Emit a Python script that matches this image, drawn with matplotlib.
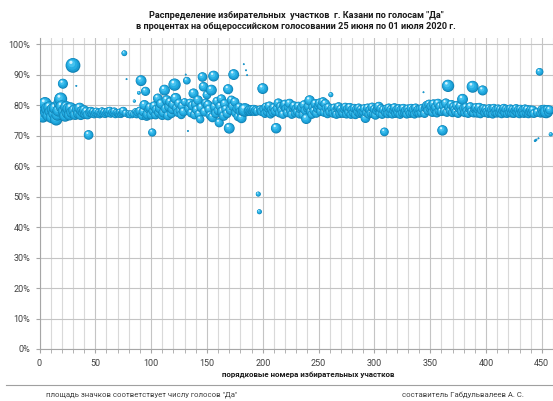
import numpy as np
import matplotlib.pyplot as plt
from matplotlib.lines import Line2D
from matplotlib.ticker import MultipleLocator, PercentFormatter

# share of "Да" votes per polling station (station numbers 1..N in order)
yes_pct = [
    77.0, 78.5, 76.2, 79.5, 80.5, 77.5, 78.8, 76.5, 79.2, 77.8,
    76.0, 78.6, 77.2, 79.0, 75.3, 76.8, 78.2, 80.8, 82.0, 79.5,
    87.0, 78.0, 76.5, 79.3, 77.5, 78.8, 76.8, 79.0, 77.6, 93.0,
    78.2, 76.9, 86.3, 78.5, 77.2, 79.0, 76.8, 78.0, 77.5, 78.3,
    77.0, 77.8, 76.8, 70.2, 77.6, 78.0, 77.2, 77.8, 76.9, 77.5,
    77.9, 77.0, 77.6, 76.8, 77.4, 78.0, 77.1, 77.7, 76.9, 77.5,
    77.9, 77.2, 78.1, 77.0, 77.6, 77.3, 77.9, 76.8, 77.5, 77.2,
    77.0, 77.6, 76.9, 77.4, 78.0, 97.0, 77.3, 88.5, 76.6, 77.2,
    76.8, 77.3, 76.5, 77.0, 81.3, 77.8, 76.9, 77.6, 84.0, 78.0,
    88.0, 76.5, 77.8, 80.0, 84.5, 76.4, 77.0, 78.6, 79.2, 76.8,
    71.0, 78.0, 79.6, 76.8, 78.5, 82.2, 77.5, 79.0, 80.4, 76.6,
    77.5, 84.9, 78.8, 81.6, 76.5, 79.4, 81.0, 77.2, 78.6, 80.2,
    86.7, 82.2, 79.0, 77.6, 80.5, 78.2, 76.8, 79.6, 77.8, 81.0,
    90.0, 88.0, 71.5, 78.9, 80.6, 77.4, 79.8, 83.8, 76.8, 80.2,
    78.4, 81.6, 77.0, 75.3, 79.2, 89.2, 86.0, 77.8, 80.6, 83.3,
    80.0, 78.6, 76.6, 84.9, 76.0, 89.5, 79.4, 77.3, 81.2, 78.2,
    74.2, 79.6, 82.0, 77.8, 76.4, 80.4, 78.6, 77.2, 85.2, 72.4,
    78.4, 81.6, 79.6, 90.0, 81.0, 77.4, 78.8, 76.2, 79.2, 77.8,
    75.7, 78.0, 93.4, 78.4, 91.4, 89.8, 78.0, 78.3, 77.9, 78.4,
    78.1, 78.5, 77.9, 78.3, 78.0, 50.8, 45.0, 78.4, 77.9, 85.4,
    78.6, 77.2, 79.3, 77.8, 78.9, 79.6, 77.0, 78.4, 77.6, 79.1,
    78.0, 72.4, 78.9, 80.6, 77.4, 79.5, 78.3, 76.9, 79.8, 80.2,
    78.8, 77.5, 79.4, 80.5, 78.2, 76.9, 79.1, 79.7, 77.4, 78.7,
    77.8, 79.6, 77.0, 78.6, 79.2, 76.8, 80.0, 78.2, 75.5, 79.0,
    79.6, 81.5, 77.8, 76.9, 79.3, 78.1, 80.4, 77.3, 78.9, 79.8,
    80.6, 77.9, 79.6, 81.0, 77.6, 80.4, 78.9, 77.1, 79.2, 77.8,
    83.4, 78.8, 77.3, 79.0, 77.7, 76.9, 78.9, 79.4, 77.2, 78.6,
    77.6, 77.3, 78.7, 79.3, 77.0, 78.7, 77.6, 79.2, 76.9, 78.4,
    77.5, 78.9, 76.8, 78.6, 77.7, 79.0, 77.2, 78.5, 77.5, 77.8,
    78.8, 75.7, 77.5, 79.0, 77.0, 78.4, 77.3, 79.3, 77.1, 78.6,
    76.7, 78.2, 79.0, 79.5, 77.2, 78.8, 76.9, 78.4, 71.2, 77.6,
    78.7, 77.1, 79.0, 77.6, 78.5, 77.0, 78.3, 79.1, 77.2, 78.4,
    77.5, 78.8, 76.9, 78.5, 77.4, 78.9, 77.6, 78.2, 77.0, 78.7,
    77.9, 77.2, 78.9, 77.5, 78.5, 77.0, 79.0, 77.6, 78.4, 77.3,
    78.6, 77.5, 78.9, 84.2, 77.2, 79.2, 79.8, 78.2, 80.2, 78.9,
    79.6, 77.6, 80.3, 78.6, 79.3, 77.4, 80.5, 78.1, 79.5, 77.9,
    71.7, 79.8, 78.0, 80.6, 77.6, 86.3, 79.2, 78.2, 80.1, 77.5,
    79.4, 78.4, 77.7, 79.8, 77.2, 78.9, 79.6, 77.9, 81.9, 78.8,
    77.5, 79.2, 78.1, 77.2, 78.9, 79.4, 77.8, 86.0, 77.4, 78.7,
    79.1, 77.3, 78.5, 79.2, 77.1, 78.3, 84.8, 78.8, 77.5, 78.6,
    77.8, 77.2, 78.8, 77.5, 78.5, 77.0, 78.9, 77.6, 78.4, 77.3,
    78.7, 77.6, 78.5, 77.1, 78.2, 78.9, 77.4, 78.6, 77.2, 78.4,
    77.6, 78.7, 77.3, 78.5, 77.2, 78.2, 78.8, 77.5, 78.4, 77.1,
    78.6, 77.6, 78.3, 77.2, 78.7, 77.5, 78.5, 77.1, 77.8, 78.4,
    77.4, 78.3, 77.2, 68.3, 68.6, 77.6, 69.1, 90.9, 77.3, 78.5,
    77.5, 78.6, 77.2, 77.8, 78.5, 77.6, 78.4, 70.4,
]

# number of "Да" votes per station (bubble area)
yes_votes = [
    900, 1000, 850, 950, 1000, 900, 950, 800, 900, 850,
    850, 900, 800, 850, 900, 800, 850, 900, 1000, 900,
    600, 900, 850, 900, 800, 850, 750, 800, 750, 1300,
    800, 700, 20, 750, 700, 700, 650, 650, 600, 600,
    550, 600, 500, 550, 500, 450, 400, 400, 350, 400,
    350, 300, 350, 300, 400, 350, 300, 380, 300, 350,
    380, 320, 400, 300, 350, 300, 380, 280, 330, 300,
    300, 350, 300, 350, 450, 200, 300, 15, 150, 250,
    300, 200, 150, 250, 60, 300, 350, 400, 80, 500,
    700, 450, 500, 600, 500, 550, 650, 500, 550, 500,
    400, 550, 600, 500, 600, 550, 550, 650, 600, 500,
    550, 700, 550, 600, 500, 550, 550, 500, 550, 600,
    900, 700, 550, 500, 550, 500, 450, 550, 500, 350,
    15, 350, 15, 550, 500, 500, 550, 600, 500, 550,
    550, 550, 500, 400, 550, 550, 550, 550, 500, 450,
    550, 500, 500, 700, 600, 700, 550, 550, 500, 500,
    500, 550, 500, 700, 550, 550, 500, 500, 600, 700,
    550, 500, 500, 700, 500, 550, 500, 500, 550, 500,
    600, 550, 12, 1100, 12, 10, 500, 550, 500, 550,
    500, 550, 500, 500, 450, 150, 150, 500, 500, 700,
    500, 450, 520, 480, 500, 550, 450, 500, 480, 520,
    480, 650, 500, 550, 480, 520, 500, 450, 550, 550,
    500, 480, 520, 550, 500, 450, 500, 520, 480, 500,
    480, 500, 450, 500, 520, 450, 550, 500, 650, 500,
    520, 650, 480, 450, 500, 500, 550, 480, 500, 520,
    550, 500, 520, 550, 480, 550, 500, 450, 500, 480,
    150, 500, 480, 500, 480, 450, 500, 520, 480, 500,
    480, 500, 500, 480, 450, 500, 480, 500, 450, 480,
    480, 500, 450, 500, 480, 500, 450, 500, 550, 480,
    500, 550, 480, 500, 450, 480, 450, 500, 450, 480,
    500, 480, 500, 550, 450, 500, 450, 480, 450, 480,
    500, 450, 500, 480, 500, 450, 480, 500, 450, 480,
    480, 500, 450, 480, 450, 500, 480, 480, 450, 500,
    480, 450, 500, 480, 500, 450, 500, 480, 480, 450,
    500, 480, 500, 15, 450, 520, 550, 500, 550, 520,
    550, 500, 550, 520, 550, 480, 550, 500, 520, 500,
    650, 550, 500, 550, 480, 900, 520, 500, 550, 480,
    520, 500, 480, 550, 450, 500, 520, 480, 700, 500,
    480, 520, 500, 450, 500, 520, 480, 850, 480, 500,
    520, 450, 500, 520, 450, 480, 600, 500, 480, 500,
    480, 450, 500, 480, 500, 450, 500, 480, 480, 450,
    500, 480, 500, 450, 480, 500, 480, 500, 450, 480,
    480, 500, 450, 500, 450, 480, 500, 480, 480, 450,
    500, 480, 480, 450, 500, 480, 500, 450, 480, 480,
    480, 500, 450, 40, 30, 480, 20, 350, 450, 480,
    480, 500, 450, 1000, 480, 450, 480, 100,
]

title_1 = 'Распределение избирательных  участков  г. Казани по голосам "Да"'
title_2 = 'в процентах на общероссийском голосовании 25 июня по 01 июля 2020 г.'
x_title = "порядковые номера избирательных участков"
note_left = 'площадь значков соответствует числу голосов "Да"'
note_right = "составитель Габдульвалеев А. С."

plt.rcParams['font.family'] = ['Roboto', 'DejaVu Sans']

W, H = 553, 401
fig = plt.figure(figsize=(W / 100, H / 100), dpi=100)
ax = fig.add_axes([39.5 / W, 52 / H, 513.5 / W, 311 / H])
ax.set_xlim(0, 460)
ax.set_ylim(0, 102)

ax.xaxis.set_major_locator(MultipleLocator(50))
ax.xaxis.set_minor_locator(MultipleLocator(10))
ax.yaxis.set_major_locator(MultipleLocator(10))
ax.yaxis.set_major_formatter(PercentFormatter(xmax=100, decimals=0))

ax.set_axisbelow(True)
ax.grid(which='minor', axis='x', color='#d9d9d9', lw=0.8)
ax.grid(which='major', axis='x', color='#c4c4c4', lw=0.8)
ax.grid(which='major', axis='y', color='#c4c4c4', lw=0.8)

for side in ['top', 'right']:
    ax.spines[side].set_visible(False)
for side in ['left', 'bottom']:
    ax.spines[side].set_color('#a6a6a6')
    ax.spines[side].set_linewidth(0.8)
ax.tick_params(which='both', direction='out', length=3, color='#a6a6a6',
               labelsize=6.5, labelcolor='#404040')
ax.tick_params(axis='x', pad=4.5)

# bubbles: layered discs give the shaded 3-D look
x = np.arange(1, len(yes_pct) + 1)
y = np.array(yes_pct)
r_px = 0.205 * np.sqrt(np.array(yes_votes, dtype=float))
r_px = np.maximum(r_px, 0.9)

layers = [  # (scale of radius, dx, dy in radius units, colour)
    (1.00, 0.00, 0.00, '#0f7fb0'),
    (0.90, -0.04, 0.05, '#1a9cd3'),
    (0.72, -0.10, 0.13, '#26aee3'),
    (0.48, -0.18, 0.24, '#45c2ef'),
    (0.22, -0.28, 0.42, '#d2f3ff'),
]
pix = ax.transData.transform(np.column_stack([x, y]))
inv = ax.transData.inverted()
pts, sizes, cols = [], [], []
for i in range(len(x)):
    for k, dx, dy, c in layers:
        if r_px[i] < 1.5 and k < 0.9:
            continue
        p = inv.transform(pix[i] + np.array([dx, dy]) * r_px[i])
        pts.append(p)
        sizes.append((2 * r_px[i] * k * 0.72) ** 2)
        cols.append(c)
pts = np.array(pts)
ax.scatter(pts[:, 0], pts[:, 1], s=sizes, c=cols, linewidths=0, zorder=3)

fig.text(296 / W, 1 - 16 / H, title_1, ha='center', va='center',
         fontsize=6.6, fontweight='bold', color='#1a1a1a')
fig.text(296 / W, 1 - 26.5 / H, title_2, ha='center', va='center',
         fontsize=6.6, fontweight='bold', color='#1a1a1a')
fig.text(308 / W, 1 - 375 / H, x_title, ha='center', va='center',
         fontsize=5.7, fontweight='bold', color='#1a1a1a')
fig.add_artist(Line2D([6 / W, 1], [1 - 384.5 / H] * 2, color='#a0a0a0', lw=0.8))
fig.text(46 / W, 1 - 394.5 / H, note_left, ha='left', va='center',
         fontsize=5.6, color='#404040')
fig.text(402 / W, 1 - 394.5 / H, note_right, ha='left', va='center',
         fontsize=5.6, color='#404040')

fig.savefig('out.png', dpi=100)
